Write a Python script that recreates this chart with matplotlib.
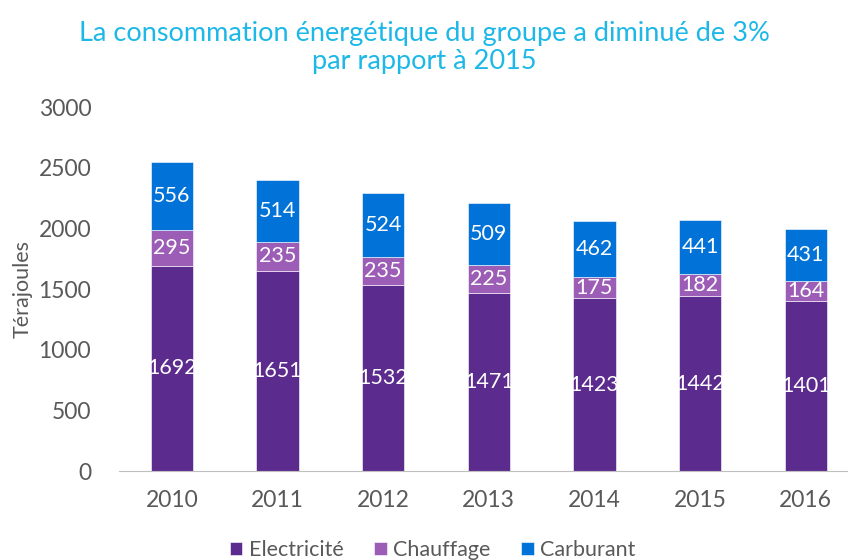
import numpy as np
import matplotlib.pyplot as plt

plt.rcParams['font.family'] = ['Lato', 'DejaVu Sans']

years = ['2010', '2011', '2012', '2013', '2014', '2015', '2016']
electricite = [1692, 1651, 1532, 1471, 1423, 1442, 1401]
chauffage = [295, 235, 235, 225, 175, 182, 164]
carburant = [556, 514, 524, 509, 462, 441, 431]

c_elec = '#5B2C8E'
c_chauf = '#9B5DB5'
c_carb = '#0072D8'
grey = '#595959'

fig = plt.figure(figsize=(8.48, 5.6), dpi=100)
ax = fig.add_axes([119 / 848, 89 / 560, 729 / 848, 364 / 560])

x = np.arange(len(years))
w = 0.4
b1 = ax.bar(x, electricite, w, color=c_elec, edgecolor='white', linewidth=0.4, label='Electricité')
b2 = ax.bar(x, chauffage, w, bottom=electricite, color=c_chauf, edgecolor='white', linewidth=0.4, label='Chauffage')
bottom3 = np.array(electricite) + np.array(chauffage)
b3 = ax.bar(x, carburant, w, bottom=bottom3, color=c_carb, edgecolor='white', linewidth=0.4, label='Carburant')

for bars in (b1, b2, b3):
    ax.bar_label(bars, label_type='center', color='white', fontsize=15.5)

ax.set_xlim(-0.5, 6.4)
ax.set_ylim(0, 3000)
ax.set_yticks(range(0, 3001, 500))
ax.set_xticks(x)
ax.set_xticklabels(years)
ax.tick_params(axis='both', length=0, colors=grey, labelsize=16.5)
ax.tick_params(axis='y', pad=20)
ax.tick_params(axis='x', pad=14)
for s in ['top', 'right', 'left']:
    ax.spines[s].set_visible(False)
ax.spines['bottom'].set_color('#BFBFBF')
ax.set_ylabel('Térajoules', color=grey, fontsize=15.5)
ax.yaxis.set_label_coords(-0.118, 0.5)

fig.suptitle('La consommation énergétique du groupe a diminué de 3%\npar rapport à 2015',
             color='#1DB8E8', fontsize=19.5, x=0.5, y=0.963, linespacing=1.15)

leg = fig.legend(handles=[b1, b2, b3], loc='lower center', bbox_to_anchor=(0.51, -0.035), ncol=3,
                 frameon=False, fontsize=15.5, handlelength=0.6, handleheight=0.6,
                 handletextpad=0.3, columnspacing=1.4)
for t in leg.get_texts():
    t.set_color(grey)

fig.savefig('out.png', dpi=100)
